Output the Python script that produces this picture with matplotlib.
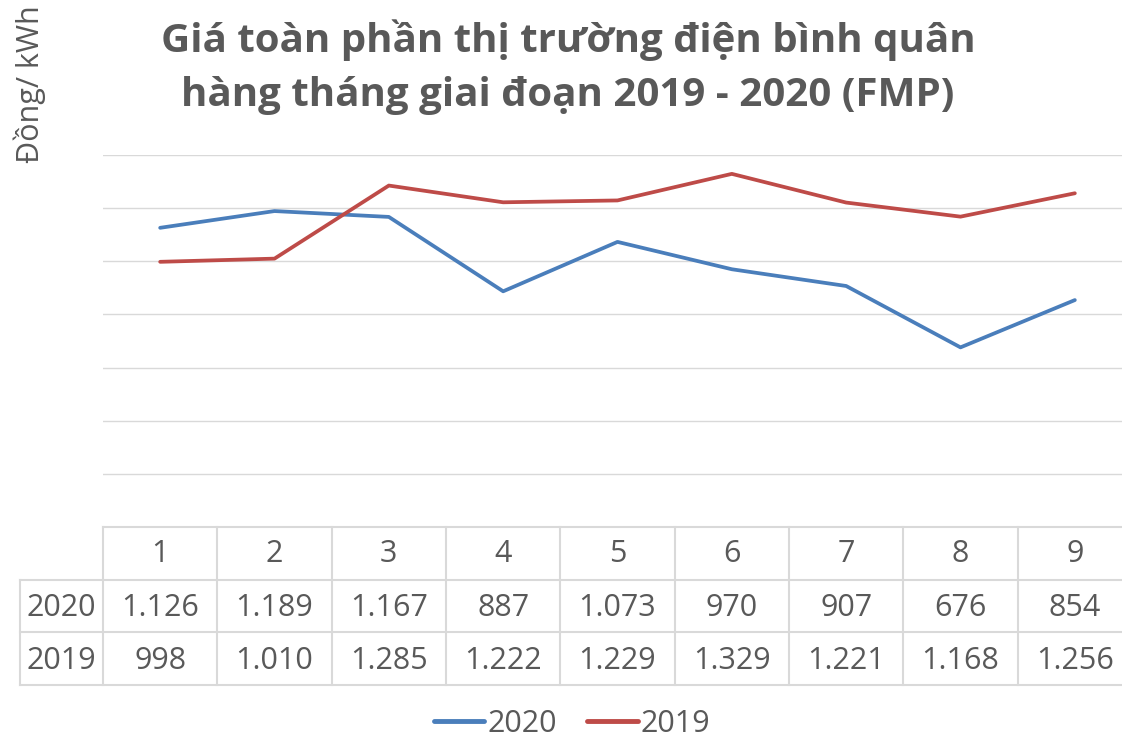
import numpy as np
import matplotlib.pyplot as plt
from matplotlib.lines import Line2D

plt.rcParams['font.family'] = ['Open Sans', 'DejaVu Sans']

months = ['1', '2', '3', '4', '5', '6', '7', '8', '9']
fmp_2020 = [1126, 1189, 1167, 887, 1073, 970, 907, 676, 854]
fmp_2019 = [998, 1010, 1285, 1222, 1229, 1329, 1221, 1168, 1256]
series_names = ['2020', '2019']
series_colors = ['#4a7ebb', '#be4b48']

title = 'Giá toàn phần thị trường điện bình quân\nhàng tháng giai đoạn 2019 - 2020 (FMP)'
ylabel = 'Đồng/ kWh'

text_color = '#595959'
grid_color = '#d9d9d9'

W, H = 1122, 739
fig = plt.figure(figsize=(W / 100, H / 100), dpi=100)

# plot area in pixel coords
left, right, top, bottom = 103, 1132, 155, 527
ax = fig.add_axes([left / W, 1 - bottom / H, (right - left) / W, (bottom - top) / H])

x = np.arange(len(months))
for vals, name, col in zip([fmp_2020, fmp_2019], series_names, series_colors):
    ax.plot(x, vals, color=col, lw=2.7, solid_capstyle='round', label=name)

ax.set_xlim(-0.5, len(months) - 0.5)
ax.set_ylim(0, 1400)
ax.set_yticks(np.arange(0, 1401, 200))
ax.grid(axis='y', color=grid_color, lw=1)
ax.set_axisbelow(True)
ax.tick_params(left=False, bottom=False, labelleft=False, labelbottom=False)
for s in ax.spines.values():
    s.set_visible(False)

# data table below the plot
tab_bottom = 685
tab = fig.add_axes([left / W, 1 - tab_bottom / H, (right - left) / W, (tab_bottom - bottom) / H])
tab.set_xlim(-0.5, len(months) - 0.5)
tab.set_ylim(0, 3)
tab.axis('off')
label_left = -0.5 - (left - 20) / ((right - left) / len(months))

lkw = dict(color=grid_color, lw=1.5, clip_on=False)
tab.plot([-0.5, len(months) - 0.5], [3, 3], **lkw)
for yy in [0, 1, 2]:
    tab.plot([label_left, len(months) - 0.5], [yy, yy], **lkw)
tab.plot([label_left, label_left], [0, 2], **lkw)
for i in range(len(months) + 1):
    tab.plot([i - 0.5, i - 0.5], [0, 3], **lkw)


def fmt(v):
    return f'{v:,}'.replace(',', '.')


tkw = dict(ha='center', va='center', fontsize=22, color=text_color, clip_on=False)
for i, m in enumerate(months):
    tab.text(i, 2.48, m, **tkw)
    tab.text(i, 1.46, fmt(fmp_2020[i]), **tkw)
    tab.text(i, 0.46, fmt(fmp_2019[i]), **tkw)
lab_x = (label_left - 0.5) / 2
tab.text(lab_x, 1.46, series_names[0], **tkw)
tab.text(lab_x, 0.46, series_names[1], **tkw)

# title and y label
fig.text(568 / W, 1 - 67 / H, title, ha='center', va='center', fontsize=29,
         fontweight='bold', color=text_color, linespacing=1.5)
fig.text(30 / W, 1 - 84 / H, ylabel, ha='center', va='center', rotation=90,
         fontsize=22, color=text_color)

# legend
handles = [Line2D([], [], color=c, lw=3.5, solid_capstyle='round') for c in series_colors]
fig.legend(handles, series_names, loc='center', bbox_to_anchor=(572 / W, 1 - 724 / H),
           ncol=2, frameon=False, fontsize=22, handlelength=1.65, handletextpad=0.1,
           columnspacing=1.0, labelcolor=text_color)

fig.savefig('out.png', dpi=100)
